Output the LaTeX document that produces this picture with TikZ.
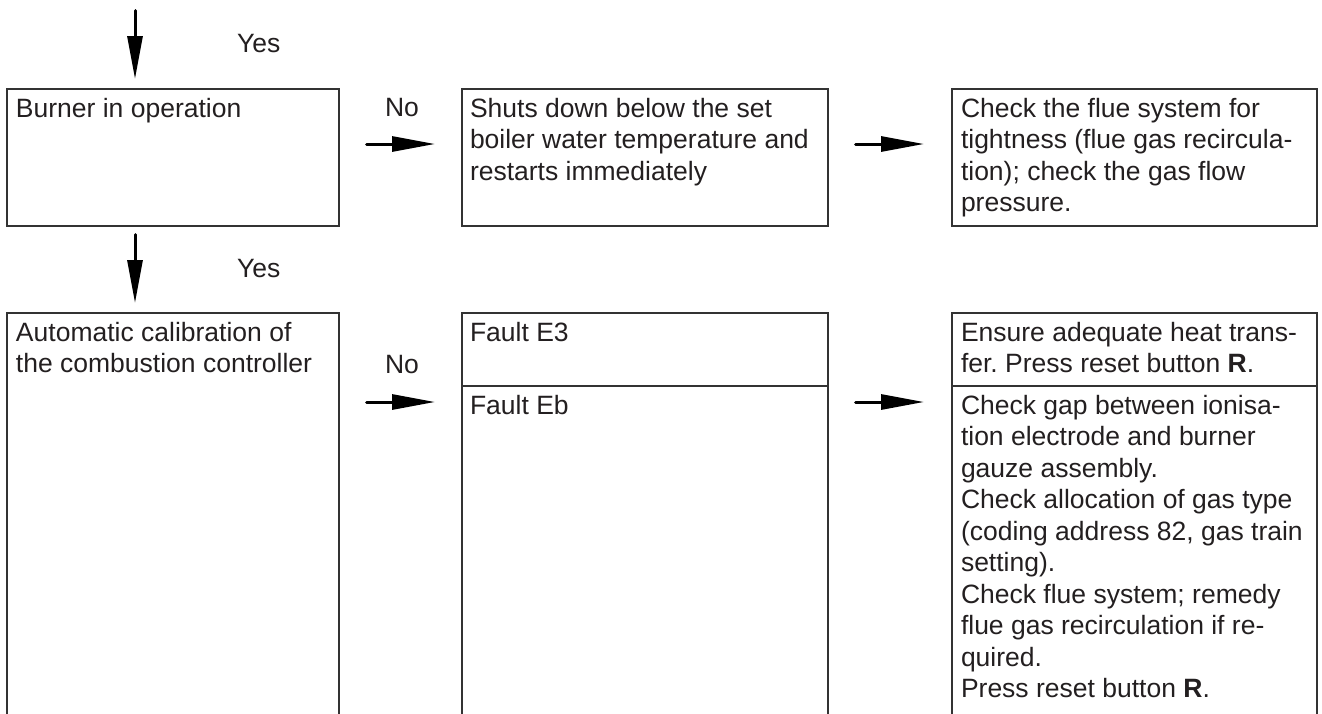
\documentclass[tikz,border=0pt]{standalone}
\usepackage{fontspec}
\setmainfont{Liberation Sans}
\usetikzlibrary{arrows.meta}
\definecolor{ink}{HTML}{231F20}
\definecolor{frame}{HTML}{333333}
\tikzset{
  boxline/.style={draw=frame, line width=1.3pt},
  boxnode/.style={anchor=north west, inner sep=0pt, outer sep=0pt},
  txt/.style={anchor=base west, inner sep=0pt, outer sep=0pt, text=ink,
    font=\fontsize{26.5}{31.5}\selectfont},
  arr/.style={draw=black, line width=3pt, line cap=round,
    -{Triangle[length=43pt,width=15pt]}}
}
\newcommand{\boxtext}[1]{\parbox[t]{400pt}{\raggedright\frenchspacing #1}}
\begin{document}
\begin{tikzpicture}[x=1pt,y=-1pt]
\useasboundingbox (0,0) rectangle (1322,713);

% ---- row 1 boxes
\node[boxnode, boxline, minimum width=332pt, minimum height=137pt] (b1) at (7,89) {};
\node[boxnode, boxline, minimum width=366pt, minimum height=137pt] (b2) at (462,89) {};
\node[boxnode, boxline, minimum width=365pt, minimum height=137pt] (b3) at (952,89) {};

% ---- row 2 boxes (open at the bottom)
\node[boxnode, minimum width=332pt, minimum height=420pt] (b4) at (7,313) {};
\draw[boxline] (b4.south west) -- (b4.north west) -- (b4.north east) -- (b4.south east);

\node[boxnode, boxline, minimum width=366pt, minimum height=73pt] (b5) at (462,313) {};
\node[boxnode, minimum width=366pt, minimum height=347pt] (b5b) at (462,386) {};
\draw[boxline] (b5b.south west) -- (b5b.north west) (b5b.north east) -- (b5b.south east);

\node[boxnode, boxline, minimum width=365pt, minimum height=73pt] (b6) at (952,313) {};
\node[boxnode, minimum width=365pt, minimum height=347pt] (b6b) at (952,386) {};
\draw[boxline] (b6b.south west) -- (b6b.north west) (b6b.north east) -- (b6b.south east);

% ---- texts
\node[txt] (t1) at (16,117) {\boxtext{Burner in operation}};
\node[txt] (t2) at (470,117) {\boxtext{Shuts down below the set\\boiler water temperature and\\restarts immediately}};
\node[txt] (t3) at (961,117) {\boxtext{Check the flue system for\\tightness (flue gas recircula-\\tion); check the gas flow\\pressure.}};
\node[txt] (t4) at (16,341) {\boxtext{Automatic calibration of\\the combustion controller}};
\node[txt] (t5) at (470,341) {\boxtext{Fault E3}};
\node[txt] (t5b) at (470,414) {\boxtext{Fault Eb}};
\node[txt] (t6) at (961,341) {\boxtext{Ensure adequate heat trans-\\fer. Press reset button \textbf{R}.}};
\node[txt] (t6b) at (961,414) {\boxtext{Check gap between ionisa-\\tion electrode and burner\\gauze assembly.\\Check allocation of gas type\\(coding address 82, gas train\\setting).\\Check flue system; remedy\\flue gas recirculation if re-\\quired.\\Press reset button \textbf{R}.}};

% ---- labels
\node[txt] (y1) at (237,52) {Yes};
\node[txt] (y2) at (237,277) {Yes};
\node[txt] (n1) at (385,116) {No};
\node[txt] (n2) at (385,373) {No};

% ---- arrow end points
\coordinate (d1s) at (135,10.5);
\coordinate (d1e) at (135,79);
\coordinate (d2s) at (135,234.5);
\coordinate (d2e) at (135,303);
\coordinate (h1s) at (366.5,144);
\coordinate (h1e) at (435,144);
\coordinate (h2s) at (855.5,144);
\coordinate (h2e) at (924,144);
\coordinate (h3s) at (366.5,402);
\coordinate (h3e) at (435,402);
\coordinate (h4s) at (855.5,402);
\coordinate (h4e) at (924,402);

\draw[arr] (d1s) -- (d1e);
\draw[arr] (d2s) -- (d2e);
\draw[arr] (h1s) -- (h1e);
\draw[arr] (h2s) -- (h2e);
\draw[arr] (h3s) -- (h3e);
\draw[arr] (h4s) -- (h4e);
\end{tikzpicture}
\end{document}
